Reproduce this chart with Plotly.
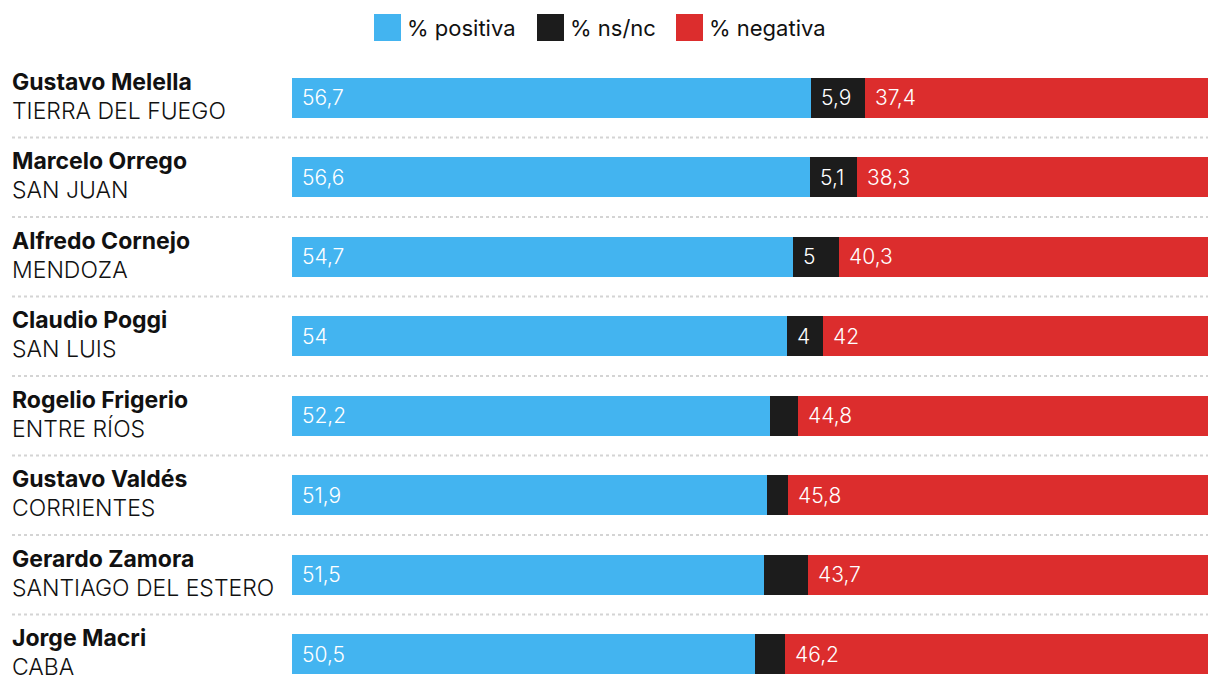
import plotly.graph_objects as go

names = ["Gustavo Melella", "Marcelo Orrego", "Alfredo Cornejo", "Claudio Poggi",
         "Rogelio Frigerio", "Gustavo Valdés", "Gerardo Zamora", "Jorge Macri"]
provinces = ["TIERRA DEL FUEGO", "SAN JUAN", "MENDOZA", "SAN LUIS",
             "ENTRE RÍOS", "CORRIENTES", "SANTIAGO DEL ESTERO", "CABA"]
positiva = [56.7, 56.6, 54.7, 54.0, 52.2, 51.9, 51.5, 50.5]
nsnc = [5.9, 5.1, 5.0, 4.0, 3.0, 2.3, 4.8, 3.3]
negativa = [37.4, 38.3, 40.3, 42.0, 44.8, 45.8, 43.7, 46.2]
pos_labels = ["56,7", "56,6", "54,7", "54", "52,2", "51,9", "51,5", "50,5"]
ns_labels = ["5,9", "5,1", "5", "4", "", "", "", ""]
neg_labels = ["37,4", "38,3", "40,3", "42", "44,8", "45,8", "43,7", "46,2"]

series = [("% positiva", positiva, pos_labels, "#43b4f0"),
          ("% ns/nc", nsnc, ns_labels, "#1c1c1c"),
          ("% negativa", negativa, neg_labels, "#dc2d2d")]

OFF = 8  # page offset of the figure in the browser
W, H = 1220, 686
ML, MR, MT, MB = 284, 20, 50, 0
PW, PH = W - ML - MR, H - MT - MB

def px_x(p):  # screen px -> paper x
    return (p - OFF - ML) / PW

def px_y(p):  # screen px -> paper y
    return 1 - (p - OFF - MT) / PH

FONT = "Inter"
ys = list(range(len(names)))
fig = go.Figure()
annotations = []
shapes = []
base = [0.0] * len(names)
for sname, vals, labels, color in series:
    fig.add_trace(go.Bar(
        y=ys, x=vals, base=base[:], orientation="h", name=sname,
        marker=dict(color=color, line=dict(width=0)), width=0.504,
        showlegend=False, hoverinfo="x+name"))
    for i, (v, lab) in enumerate(zip(vals, labels)):
        if lab:
            annotations.append(dict(
                x=base[i], y=i, xref="x", yref="y", text=lab, showarrow=False,
                xanchor="left", yanchor="middle", xshift=8, yshift=0,
                font=dict(family=FONT, size=21, color="white", weight=300)))
    base = [b + v for b, v in zip(base, vals)]

# row labels
for i, (n, p) in enumerate(zip(names, provinces)):
    annotations.append(dict(
        x=px_x(10), y=i, xref="paper", yref="y", text=n, showarrow=False,
        xanchor="left", yanchor="middle", yshift=16,
        font=dict(family=FONT, size=23, color="#111111", weight=700)))
    annotations.append(dict(
        x=px_x(10), y=i, xref="paper", yref="y", text=p, showarrow=False,
        xanchor="left", yanchor="middle", yshift=-13,
        font=dict(family=FONT, size=23, color="#111111", weight=300)))

# dotted separators
for i in range(len(names) - 1):
    shapes.append(dict(type="line", xref="paper", yref="y",
                       x0=px_x(12), x1=1.0, y0=i + 0.5, y1=i + 0.5,
                       line=dict(color="#d4d4d4", width=2, dash="dot")))

# legend
legend_items = [(374, "% positiva", "#43b4f0"),
                (537, "% ns/nc", "#1c1c1c"),
                (676, "% negativa", "#dc2d2d")]
for x0, txt, col in legend_items:
    shapes.append(dict(type="rect", xref="paper", yref="paper",
                       x0=px_x(x0), x1=px_x(x0 + 27), y0=px_y(41), y1=px_y(14),
                       fillcolor=col, line=dict(width=0)))
    annotations.append(dict(
        x=px_x(x0 + 31), y=px_y(28), xref="paper", yref="paper", text=txt,
        showarrow=False, xanchor="left", yanchor="middle",
        font=dict(family=FONT, size=22, color="#111111", weight=400)))

fig.update_layout(
    width=W, height=H,
    margin=dict(l=ML, r=MR, t=MT, b=MB),
    barmode="overlay", bargap=0,
    plot_bgcolor="white", paper_bgcolor="white",
    xaxis=dict(range=[0, 100], visible=False, fixedrange=True),
    yaxis=dict(range=[len(names) - 0.5, -0.5], visible=False, fixedrange=True),
    annotations=annotations, shapes=shapes, showlegend=False,
)
fig.write_html("out.html")
